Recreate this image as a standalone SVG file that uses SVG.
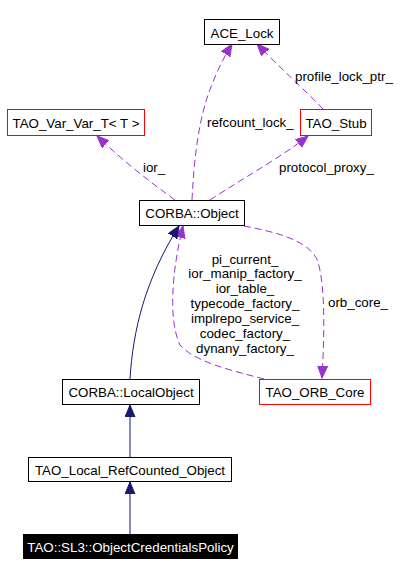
<svg xmlns="http://www.w3.org/2000/svg" width="419" height="576" viewBox="0 0 419 576">
<style>
text{font-family:"Liberation Sans",Arial,sans-serif;font-size:13.33px;fill:#000}
.c{text-anchor:middle}
.box{fill:#fff;stroke:#000;stroke-width:1}
.red{fill:#fff;stroke:#ff0000;stroke-width:1}
.dep{fill:none;stroke:#9a32cd;stroke-width:1;stroke-dasharray:7,4}
.inh{fill:none;stroke:#191970;stroke-width:1}
</style>
<defs>
<marker id="ap" markerUnits="userSpaceOnUse" markerWidth="14" markerHeight="12" refX="12" refY="5" orient="auto">
<path d="M0,0 L12,5 L0,10 z" fill="#9a32cd" stroke="#9a32cd"/>
</marker>
<marker id="an" markerUnits="userSpaceOnUse" markerWidth="14" markerHeight="12" refX="12" refY="5" orient="auto">
<path d="M0,0 L12,5 L0,10 z" fill="#191970" stroke="#191970"/>
</marker>
</defs>
<rect width="419" height="576" fill="#fff"/>
<g id="edges">
<path class="dep" d="M192,200 C194,160 198,125 208,95 C214,78 222,60 232,44" marker-end="url(#ap)"/>
<path class="dep" d="M323,109 C305,90 278,66 257,44" marker-end="url(#ap)"/>
<path class="dep" d="M175,200 C150,182 122,160 97,136" marker-end="url(#ap)"/>
<path class="dep" d="M210,200 C240,180 280,158 308,136" marker-end="url(#ap)"/>
<path class="dep" d="M244,226 C275,232 310,240 318,262 C326,290 324,340 322,378" marker-end="url(#ap)"/>
<path class="dep" d="M264,379 C230,370 195,362 180,345 C168,320 172,270 183,226" marker-end="url(#ap)"/>
<path class="inh" d="M130,379 C133,330 145,280 179,226" marker-end="url(#an)"/>
<path class="inh" d="M130,457 L130,405" marker-end="url(#an)"/>
<path class="inh" d="M130,534 L130,482" marker-end="url(#an)"/>
<text x="207" y="127">refcount_lock_</text>
<text x="295" y="81">profile_lock_ptr_</text>
<text x="143" y="172">ior_</text>
<text x="279" y="172">protocol_proxy_</text>
<text x="328" y="307">orb_core_</text>
<text class="c" x="245" y="263.5">pi_current_</text>
<text class="c" x="245" y="278">ior_manip_factory_</text>
<text class="c" x="245" y="293">ior_table_</text>
<text class="c" x="245" y="308">typecode_factory_</text>
<text class="c" x="245" y="322.5">implrepo_service_</text>
<text class="c" x="245" y="337.5">codec_factory_</text>
<text class="c" x="245" y="352.5">dynany_factory_</text>
</g>
<g id="ace_lock"><rect class="box" x="204.5" y="19.5" width="75" height="25"/><text class="c" x="242" y="37.5">ACE_Lock</text></g>
<g id="tao_var_var_t"><rect class="red" x="7.5" y="109.5" width="137" height="26"/><text class="c" x="76" y="127.5">TAO_Var_Var_T&lt; T &gt;</text></g>
<g id="tao_stub"><rect class="red" x="300.5" y="109.5" width="71" height="26"/><text class="c" x="336" y="127.5">TAO_Stub</text></g>
<g id="corba_object"><rect class="box" x="139.5" y="200.5" width="105" height="25"/><text class="c" x="192" y="218">CORBA::Object</text></g>
<g id="corba_localobject"><rect class="box" x="62.5" y="379.5" width="137" height="25"/><text class="c" x="131" y="397">CORBA::LocalObject</text></g>
<g id="tao_orb_core"><rect class="red" x="259.5" y="379.5" width="111" height="25"/><text class="c" x="315" y="397">TAO_ORB_Core</text></g>
<g id="tao_local_refcounted_object"><rect class="box" x="28.5" y="457.5" width="203" height="24"/><text class="c" x="130" y="475">TAO_Local_RefCounted_Object</text></g>
<g id="object_credentials_policy"><rect x="23" y="534" width="215" height="25" fill="#000"/><text class="c" x="130.5" y="551.5" style="fill:#fff">TAO::SL3::ObjectCredentialsPolicy</text></g>
</svg>
